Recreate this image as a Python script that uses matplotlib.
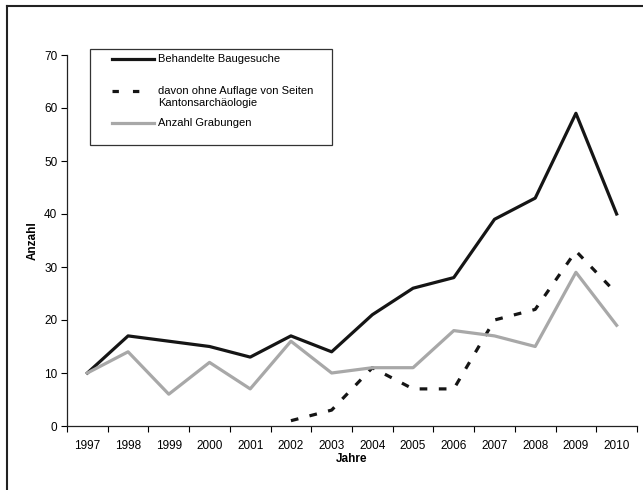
import numpy as np
import matplotlib.pyplot as plt
from matplotlib.lines import Line2D
from matplotlib.patches import Rectangle

plt.rcParams['font.family'] = ['Liberation Sans', 'DejaVu Sans']

jahre = ['1997', '1998', '1999', '2000', '2001', '2002', '2003',
         '2004', '2005', '2006', '2007', '2008', '2009', '2010']
baugesuche = [10, 17, 16, 15, 13, 17, 14, 21, 26, 28, 39, 43, 59, 40]
ohne_auflage = [np.nan, np.nan, np.nan, np.nan, np.nan, 1, 3, 11, 7, 7, 20, 22, 33, 25]
grabungen = [10, 14, 6, 12, 7, 16, 10, 11, 11, 18, 17, 15, 29, 19]

W, H = 643, 490
fig = plt.figure(figsize=(W / 100, H / 100), dpi=100)
ax = fig.add_axes([67 / W, 1 - 426 / H, 570 / W, 371 / H])

# helper: pixel (from top-left) -> figure coords
def fx(px):
    return px / W

def fy(py):
    return 1 - py / H

x = np.arange(len(jahre))
black = '#151515'
grey = '#a8a8a8'
ax.plot(x, baugesuche, color=black, lw=2.3)
ax.plot(x, ohne_auflage, color=black, lw=2.3, dashes=(2.4, 3.6), dash_capstyle='butt')
ax.plot(x, grabungen, color=grey, lw=2.3)

ax.set_xlim(-0.5, len(jahre) - 0.5)
ax.set_ylim(0, 70)
ax.set_yticks(range(0, 71, 10))
ax.set_xticks(x)
ax.set_xticklabels(jahre)
ax.set_xticks(np.arange(-0.5, len(jahre), 1), minor=True)
ax.tick_params(axis='x', which='major', length=0, labelsize=8.5, pad=10)
ax.tick_params(axis='x', which='minor', length=4, width=0.8, direction='out')
ax.tick_params(axis='y', length=4, width=0.8, direction='out', labelsize=8.5, pad=3)
for s in ['top', 'right']:
    ax.spines[s].set_visible(False)
for s in ['left', 'bottom']:
    ax.spines[s].set_linewidth(0.9)
    ax.spines[s].set_color('#222222')

ax.set_xlabel('Jahre', fontsize=8.5, fontweight='bold', labelpad=1)
ax.set_ylabel('Anzahl', fontsize=8.5, fontweight='bold', labelpad=4)

# legend box drawn like the Excel original
fig.add_artist(Rectangle((fx(90), fy(145)), fx(332) - fx(90), fy(49) - fy(145),
                         transform=fig.transFigure, fill=False,
                         edgecolor='#333333', lw=0.9))
fig.add_artist(Line2D([fx(112), fx(154)], [fy(59), fy(59)], transform=fig.transFigure,
                      color=black, lw=2.3))
fig.add_artist(Line2D([fx(112), fx(140)], [fy(91), fy(91)], transform=fig.transFigure,
                      color=black, lw=2.3, dashes=(2.0, 4.4), dash_capstyle='butt'))
fig.add_artist(Line2D([fx(112), fx(154)], [fy(123), fy(123)], transform=fig.transFigure,
                      color=grey, lw=2.3))
fig.text(fx(158), fy(59), 'Behandelte Baugesuche', fontsize=8, va='center')
fig.text(fx(158), fy(91), 'davon ohne Auflage von Seiten', fontsize=8, va='center')
fig.text(fx(158), fy(102.5), 'Kantonsarchäologie', fontsize=8, va='center')
fig.text(fx(158), fy(123), 'Anzahl Grabungen', fontsize=8, va='center')

# page frame of the scan
fig.add_artist(Line2D([fx(7), 1], [fy(6), fy(6)], transform=fig.transFigure,
                      color='#222222', lw=1.5))
fig.add_artist(Line2D([fx(7), fx(7)], [0, fy(6)], transform=fig.transFigure,
                      color='#222222', lw=1.5))

fig.savefig('out.png', dpi=100)
